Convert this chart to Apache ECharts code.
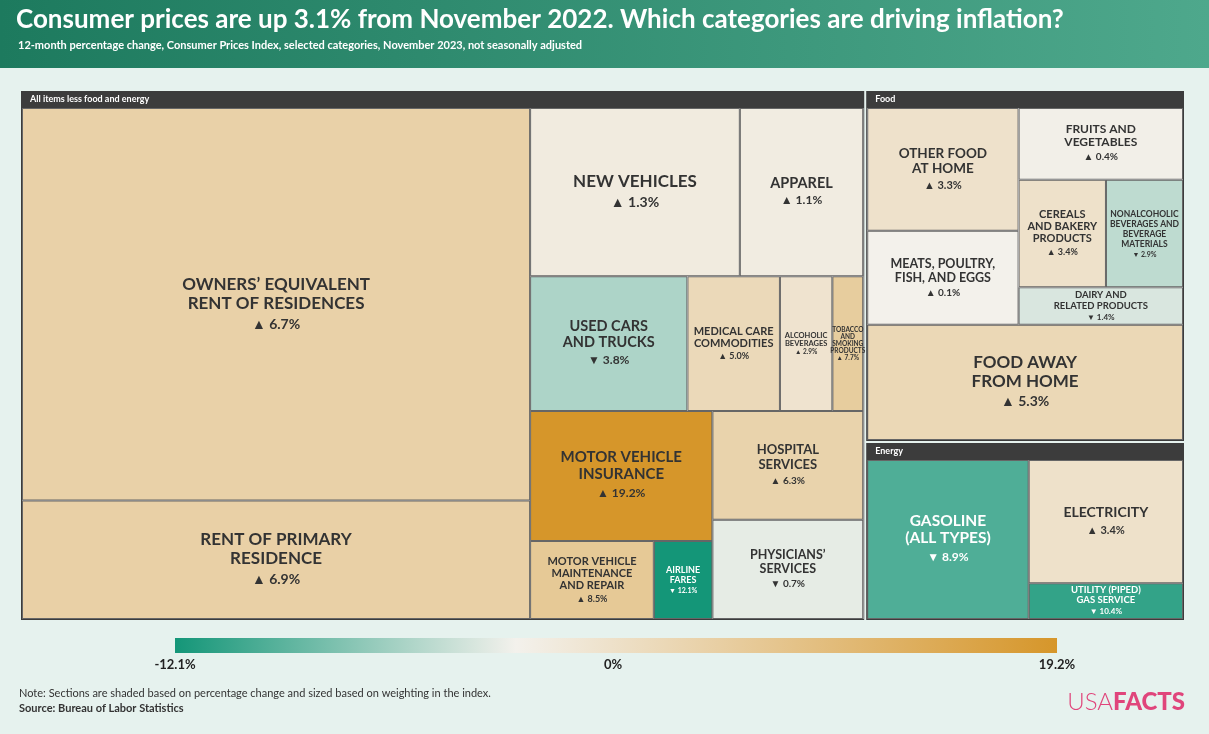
<!DOCTYPE html>
<html><head><meta charset="utf-8">
<script src="https://cdn.jsdelivr.net/npm/echarts@6/dist/echarts.min.js"></script>
<style>html,body{margin:0;padding:0;background:#e6f2ee;}#c{width:1209px;height:734px;}</style>
</head><body><div id="c"></div>
<script>
const groups = ["All items less food and energy", "Food", "Energy"];
const coreNames = ["OWNERS’ EQUIVALENT\nRENT OF RESIDENCES","RENT OF PRIMARY\nRESIDENCE","NEW VEHICLES","APPAREL","USED CARS\nAND TRUCKS","MEDICAL CARE\nCOMMODITIES","ALCOHOLIC\nBEVERAGES","TOBACCO AND SMOKING PRODUCTS","MOTOR VEHICLE\nINSURANCE","MOTOR VEHICLE\nMAINTENANCE\nAND REPAIR","AIRLINE\nFARES","HOSPITAL\nSERVICES","PHYSICIANS’\nSERVICES"];
const coreWeights = [192,58,34,20,20.4,12,6.8,4,22.8,9.3,4.4,15.8,14.4];
const coreChange = [6.7,6.9,1.3,1.1,-3.8,5.0,2.9,7.7,19.2,8.5,-12.1,6.3,-0.7];
const foodNames = ["OTHER FOOD\nAT HOME","MEATS, POULTRY,\nFISH, AND EGGS","FRUITS AND\nVEGETABLES","CEREALS\nAND BAKERY\nPRODUCTS","NONALCOHOLIC\nBEVERAGES AND\nBEVERAGE\nMATERIALS","DAIRY AND\nRELATED PRODUCTS","FOOD AWAY\nFROM HOME"];
const foodWeights = [18.4,14.1,11.7,9.3,8.2,6.1,36];
const foodChange = [3.3,0.1,0.4,3.4,-2.9,-1.4,5.3];
const energyNames = ["GASOLINE\n(ALL TYPES)","ELECTRICITY","UTILITY (PIPED)\nGAS SERVICE"];
const energyWeights = [27,20,5.8];
const energyChange = [-8.9,3.4,-10.4];
const scaleMin = -12.1, scaleMax = 19.2;

const MID=[243,241,236], NEG=[20,150,120], POS=[214,150,42];
function col(v){const t=v<0?v/scaleMin:v/scaleMax;const e=v<0?NEG:POS;
 const c=MID.map((m,i)=>Math.round(m+(e[i]-m)*t));return 'rgb('+c.join(',')+')';}
const leaves={};
function leaf(n,w,ch){
 const c=ch<-8?'#fff':'#333';
 const o={name:n,value:w,change:ch,itemStyle:{color:col(ch),borderWidth:1,borderColor:'#666',gapWidth:0},
  label:{show:true,overflow:'none',color:c,fontSize:10,rich:{p:{color:c}}}};
 leaves[n]=o;return o;
}
const L=(arr,i)=>leaf(arr[0][i],arr[1][i],arr[2][i]);
const G=(...ch)=>({children:ch,itemStyle:{borderWidth:0,gapWidth:0},label:{show:false}});
const C=[coreNames,coreWeights,coreChange], F=[foodNames,foodWeights,foodChange], E=[energyNames,energyWeights,energyChange];
const data=[
 {name:groups[0],children:[
   G(L(C,0),L(C,1)),
   G(G(L(C,2),L(C,3)),
     G(L(C,4),G(G(L(C,5),L(C,6)),L(C,7))),
     G(G(L(C,8),G(L(C,9),L(C,10))),G(L(C,11),L(C,12))))
 ]},
 {name:groups[1],children:[
   G(G(L(F,0),L(F,1)),G(G(L(F,2),G(L(F,3),L(F,4))),L(F,5))),
   L(F,6)
 ]},
 {name:groups[2],children:[L(E,0),G(L(E,1),L(E,2))]}
];
const chart=echarts.init(document.getElementById('c'));
const FF='Lato, "Open Sans", sans-serif';
chart.setOption({
 backgroundColor:'#e6f2ee',
 graphic:[
  {type:'rect',shape:{x:0,y:0,width:1209,height:68},style:{fill:new echarts.graphic.LinearGradient(0,0,1,0,[{offset:0,color:'#1d7a5e'},{offset:1,color:'#4ea88c'}])}},
  {type:'text',left:16,top:7,style:{text:'Consumer prices are up 3.1% from November 2022. Which categories are driving inflation?',fill:'#fff',font:'bold 26px '+FF}},
  {type:'text',left:18,top:40,style:{text:'12-month percentage change, Consumer Prices Index, selected categories, November 2023, not seasonally adjusted',fill:'#fff',font:'bold 11px '+FF}},
  {type:'rect',shape:{x:175,y:638,width:882,height:15},style:{fill:new echarts.graphic.LinearGradient(0,0,1,0,[{offset:0,color:col(scaleMin)},{offset:12.1/31.3,color:col(0)},{offset:1,color:col(scaleMax)}])}},
  {type:'text',x:175,y:658,style:{text:'-12.1%',fill:'#222',font:'bold 13px '+FF,align:'center'}},
  {type:'text',x:613,y:658,style:{text:'0%',fill:'#222',font:'bold 13px '+FF,align:'center'}},
  {type:'text',x:1057,y:658,style:{text:'19.2%',fill:'#222',font:'bold 13px '+FF,align:'center'}},
  {type:'text',left:19,top:688,style:{text:'Note: Sections are shaded based on percentage change and sized based on weighting in the index.',fill:'#333',font:'11px '+FF}},
  {type:'text',left:19,top:703,style:{text:'Source: Bureau of Labor Statistics',fill:'#333',font:'bold 11px '+FF}},
  {type:'text',right:24,top:690,style:{rich:{a:{fill:'#e0457b',font:'300 24px Lato, sans-serif'},b:{fill:'#e0457b',font:'900 24px Lato, sans-serif'}},text:'{a|USA}{b|FACTS}'}}
 ],
 series:[{
  type:'treemap',left:21,top:91,width:1163,height:529,sort:false,squareRatio:1,
  roam:false,nodeClick:false,breadcrumb:{show:false},animation:false,
  data:data,
  label:{show:true,align:'center',fontFamily:FF,fontWeight:'bold',
   formatter:p=>{const c=p.data.change;if(c===undefined)return '';return (p.data.disp||p.data.name)+'\n{p|'+(c>=0?'▲ ':'▼ ')+Math.abs(c).toFixed(1)+'%}';}},
  levels:[
   {itemStyle:{borderWidth:0,gapWidth:2,borderColor:'#e6f2ee'}},
   {itemStyle:{borderWidth:1,gapWidth:0,borderColor:'#3c3c3c',color:'#3c3c3c'},
    upperLabel:{show:true,height:17,color:'#fff',fontSize:9,fontWeight:'bold',fontFamily:FF,padding:[0,0,0,8],formatter:'{b}'}}
  ]
 }]
});
// second pass: size, wrap and vertically centre labels using the library's computed layout
function wrap(text,maxChars){const words=text.replace(/\n/g,' ').split(' ');const out=[];let cur='';
 words.forEach(w=>{if(cur&&(cur+' '+w).length>maxChars){out.push(cur);cur=w;}else cur=cur?cur+' '+w:w;});
 if(cur)out.push(cur);return out;}
const sd=chart.getModel().getSeriesByIndex(0).getData();
for(let i=0;i<sd.count();i++){
 const o=leaves[sd.getName(i)];const lay=sd.getItemLayout(i);
 if(!o||!lay)continue;
 let lines=o.name.split('\n');let maxC=Math.max(...lines.map(s=>s.length));
 let fs=Math.min(17,4+Math.sqrt(lay.width*lay.height)/14,(lay.width-8)/(maxC*0.64));
 if(fs<7){lines=wrap(o.name,Math.floor((lay.width-6)/(7*0.64)));o.disp=lines.join('\n');
   maxC=Math.max(...lines.map(s=>s.length));fs=Math.min(9,(lay.width-6)/(maxC*0.64));}
 fs=Math.max(6.5,Math.round(fs*2)/2);
 let k=1.12, kp=1.3;
 let ch=lines.length*fs*k+fs*kp;
 if(ch>lay.height-4){const s=(lay.height-4)/ch;k*=s;kp*=s;ch=lay.height-4;}
 const lh=Math.max(6,Math.round(fs*k)), pfs=Math.max(6.5,Math.round(fs*0.8)), plh=Math.max(7,Math.round(fs*kp));
 ch=lines.length*lh+plh;
 o.label.fontSize=fs;o.label.lineHeight=lh;
 o.label.rich.p.fontSize=pfs;o.label.rich.p.lineHeight=plh;
 o.label.padding=[Math.max(0,Math.floor((lay.height-ch)/2)),0,0,0];
}
chart.setOption({series:[{data:data}]});
</script></body></html>
